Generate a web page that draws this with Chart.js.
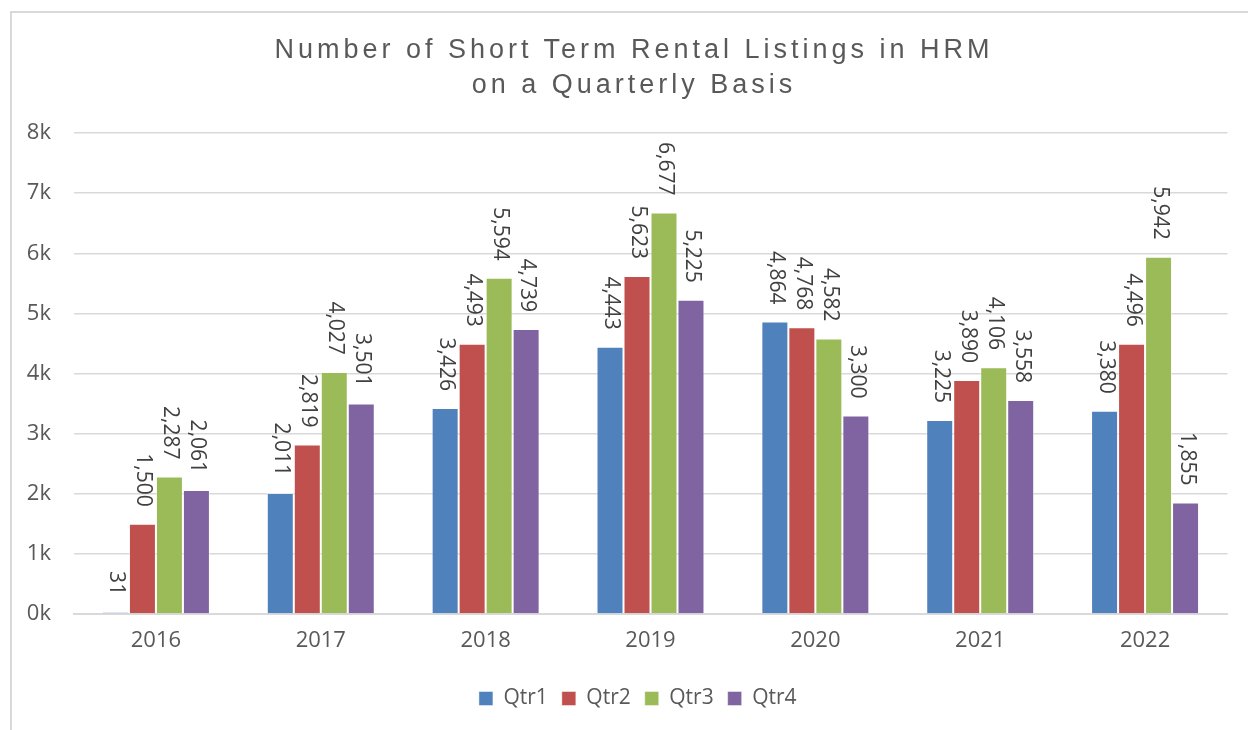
<!DOCTYPE html>
<html>
<head>
<meta charset="utf-8">
<script src="https://cdn.jsdelivr.net/npm/chart.js@4"></script>
<style>
  html, body { margin: 0; padding: 0; background: #ffffff; overflow: hidden; }
  #wrap { position: relative; width: 1248px; height: 730px; }
  #frame { position: absolute; left: 10px; top: 11px; width: 2000px; height: 2000px;
           border-top: 2px solid #d9d9d9; border-left: 2px solid #d9d9d9; box-sizing: border-box; }
  #title { position: absolute; left: 10px; top: 32px; width: 1248px; text-align: center;
           font-family: "Liberation Sans", Arial, sans-serif; font-size: 27px; line-height: 35px;
           letter-spacing: 4px; color: #595959; white-space: nowrap; }
  canvas { position: absolute; left: 0; top: 0; }
</style>
</head>
<body>
<div id="wrap">
  <div id="frame"></div>
  <canvas id="c" width="1248" height="730"></canvas>
  <div id="title">Number of Short Term Rental Listings in HRM<br>on a Quarterly Basis</div>
</div>
<script>
const years = ["2016", "2017", "2018", "2019", "2020", "2021", "2022"];
const qtr1 = [31, 2011, 3426, 4443, 4864, 3225, 3380];
const qtr2 = [1500, 2819, 4493, 5623, 4768, 3890, 4496];
const qtr3 = [2287, 4027, 5594, 6677, 4582, 4106, 5942];
const qtr4 = [2061, 3501, 4739, 5225, 3300, 3558, 1855];
const seriesNames = ["Qtr1", "Qtr2", "Qtr3", "Qtr4"];
const seriesColors = ["#4F81BD", "#C0504D", "#9BBB59", "#8064A2"];
const yTickValues = [0, 1000, 2000, 3000, 4000, 5000, 6000, 7000, 8000];

const seriesData = [qtr1, qtr2, qtr3, qtr4];

const valueLabels = {
  id: 'valueLabels',
  afterDatasetsDraw(chart) {
    const ctx = chart.ctx;
    ctx.save();
    ctx.font = '21px "Open Sans", sans-serif';
    ctx.fillStyle = '#404040';
    ctx.textAlign = 'right';
    ctx.textBaseline = 'middle';
    chart.data.datasets.forEach((ds, i) => {
      const meta = chart.getDatasetMeta(i);
      meta.data.forEach((bar, j) => {
        const v = ds.data[j];
        const txt = v.toLocaleString('en-US');
        ctx.save();
        ctx.translate(bar.x + 1, bar.y - 17);
        ctx.rotate(Math.PI / 2);
        ctx.fillText(txt, 0, 0);
        ctx.restore();
      });
    });
    ctx.restore();
  }
};

const legendShift = {
  id: 'legendShift',
  afterLayout(chart) {
    if (chart.legend) { chart.legend.left += 24; chart.legend.right += 24; }
  }
};

new Chart(document.getElementById('c'), {
  type: 'bar',
  data: {
    labels: years,
    datasets: seriesNames.map((n, i) => ({
      label: n,
      data: seriesData[i],
      backgroundColor: seriesColors[i],
      borderColor: 'rgba(255,255,255,0.45)',
      borderWidth: 1,
      categoryPercentage: 0.655,
      barPercentage: 1.0
    }))
  },
  options: {
    responsive: false,
    animation: false,
    devicePixelRatio: 1,
    layout: { padding: { top: 133, left: 0, right: 20.5, bottom: 11 } },
    plugins: {
      title: { display: false },
      tooltip: { enabled: false },
      legend: {
        position: 'bottom',
        labels: {
          boxWidth: 14, boxHeight: 14, padding: 14,
          color: '#595959',
          font: { family: '"Open Sans", sans-serif', size: 21 }
        }
      }
    },
    scales: {
      x: {
        grid: { display: false },
        border: { display: true, color: '#d9d9d9', width: 2 },
        ticks: { color: '#595959', padding: 6, font: { family: '"Open Sans", sans-serif', size: 22 } },
        afterFit(s) { s.height = 60; }
      },
      y: {
        min: 0, max: 8000,
        afterBuildTicks(s) { s.ticks = yTickValues.map(v => ({ value: v })); },
        grid: { color: '#d9d9d9', lineWidth: 1.5, drawTicks: false },
        border: { display: false },
        ticks: {
          color: '#595959', padding: 22.5,
          font: { family: '"Open Sans", sans-serif', size: 22 },
          callback: v => (v / 1000) + 'k'
        },
        afterFit(s) { s.width = 73.5; }
      }
    }
  },
  plugins: [valueLabels, legendShift]
});
</script>
</body>
</html>
